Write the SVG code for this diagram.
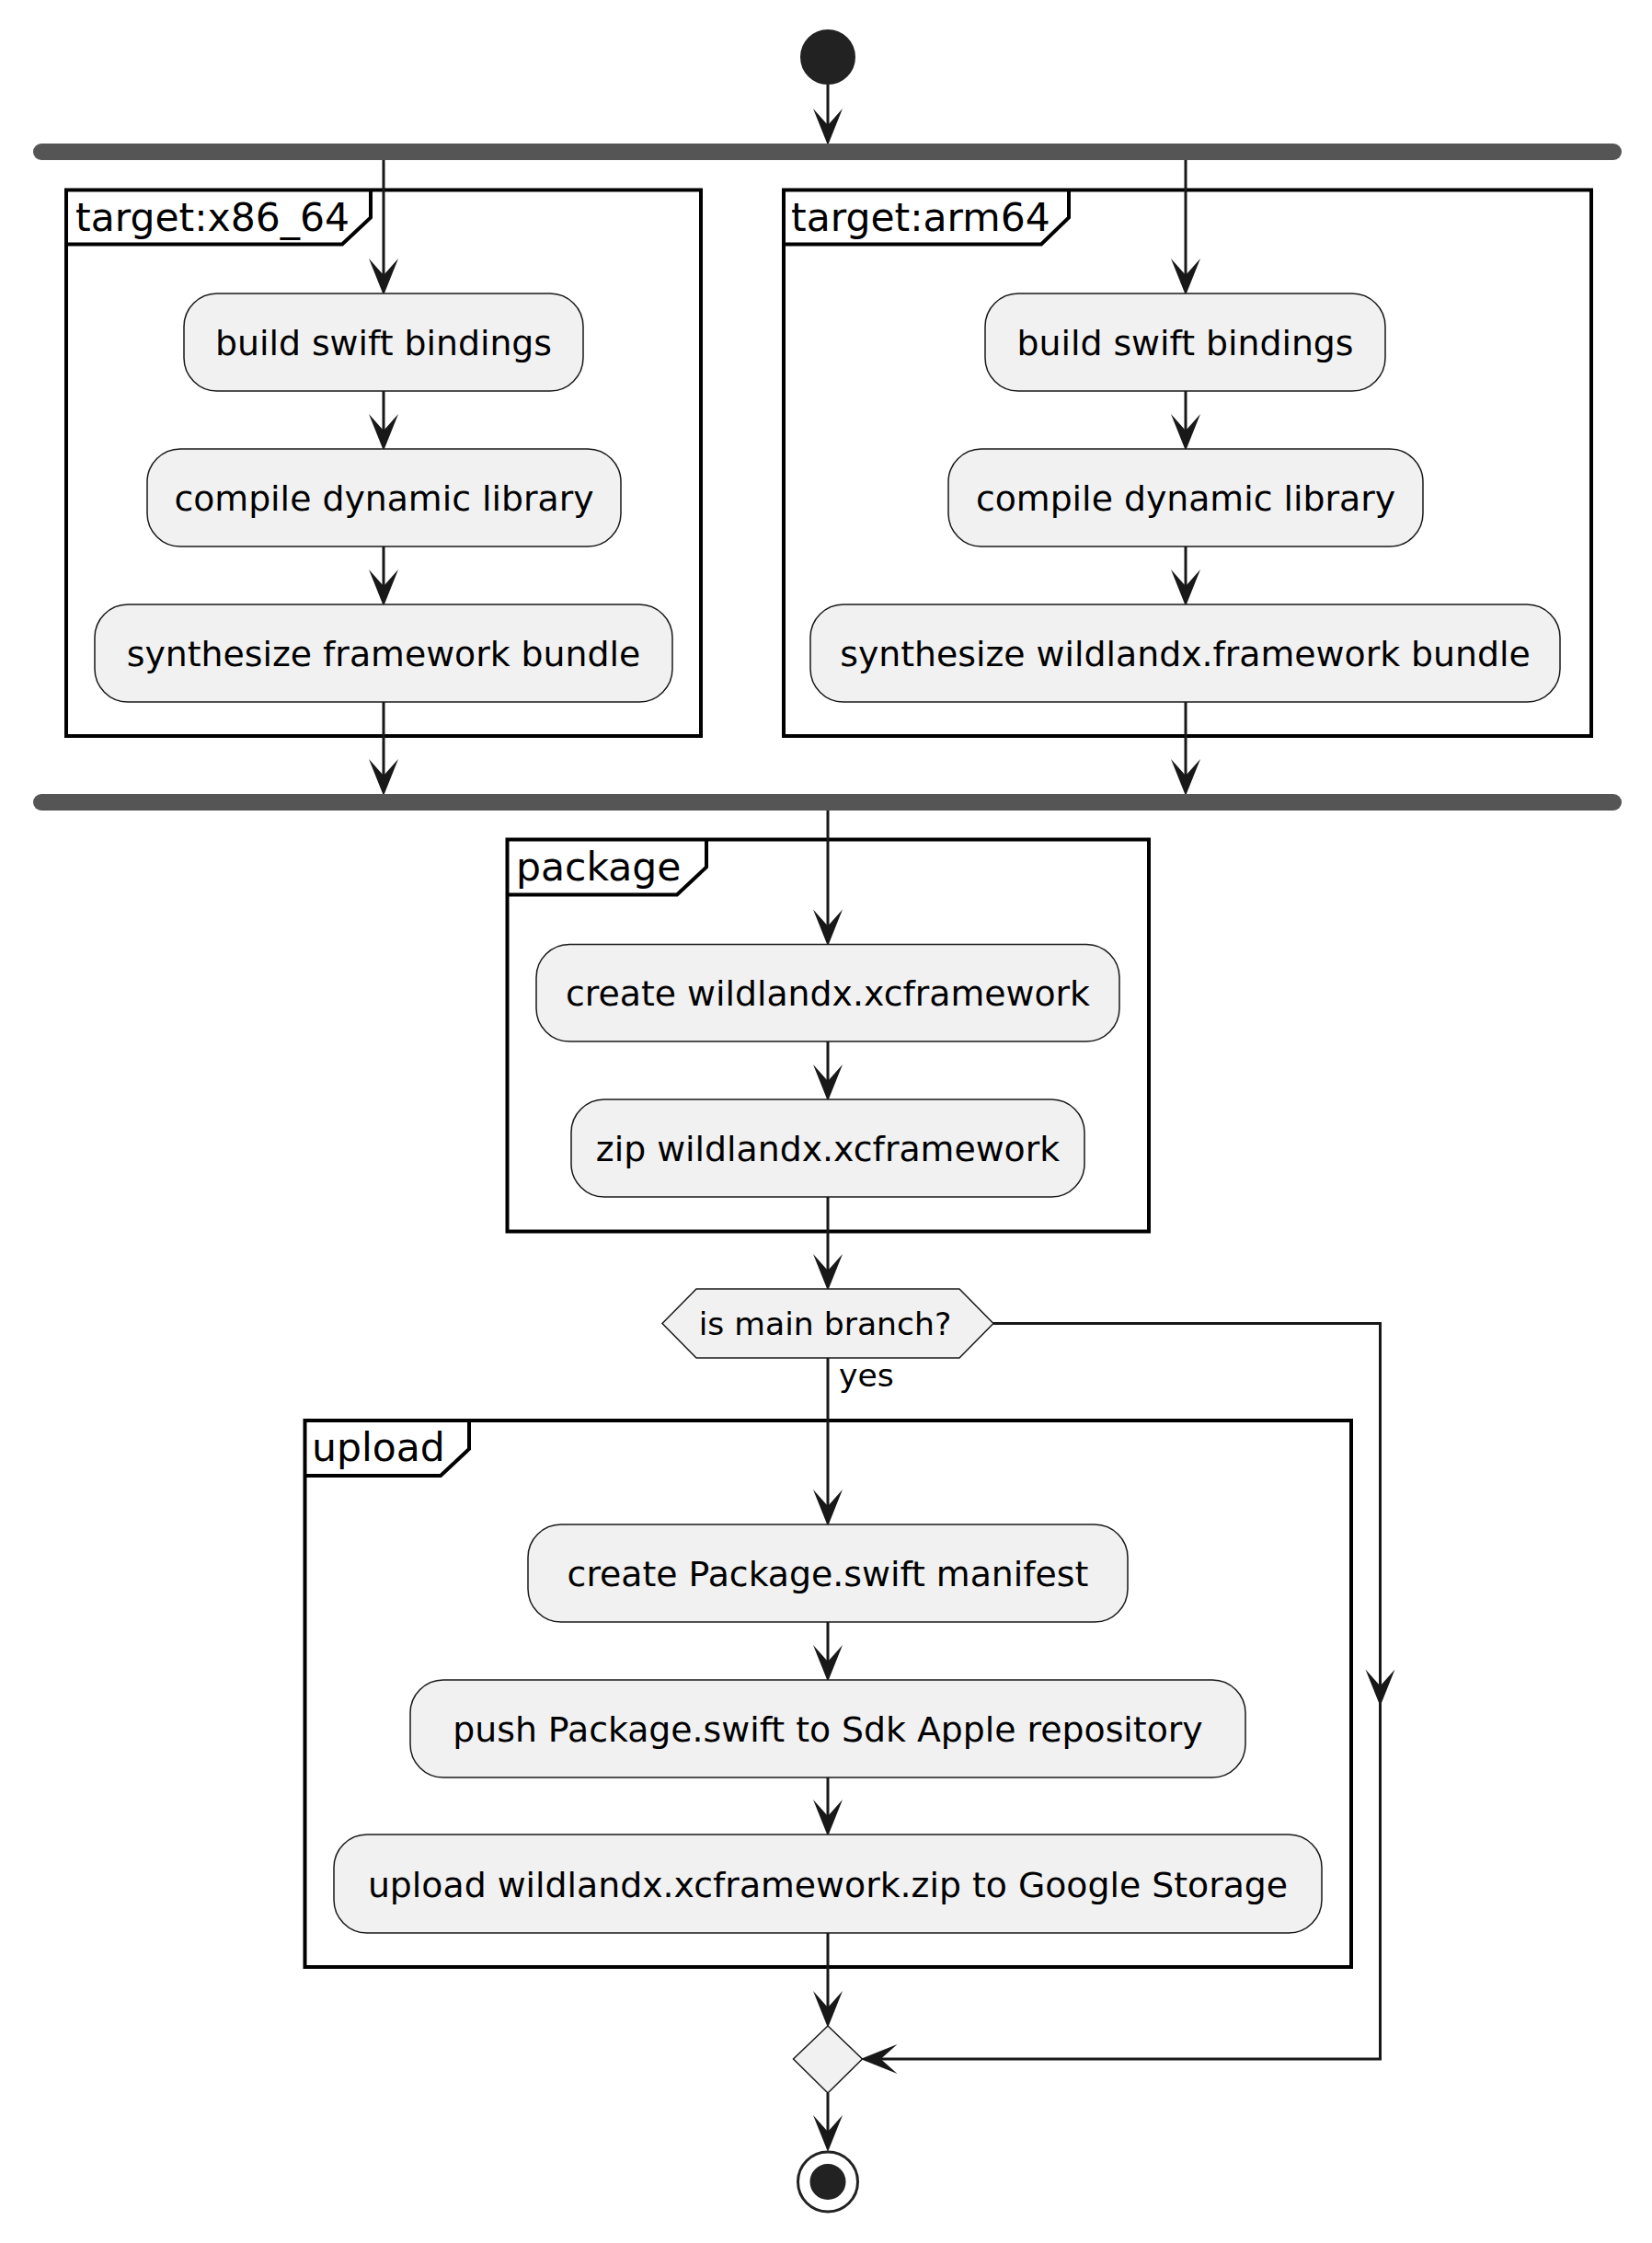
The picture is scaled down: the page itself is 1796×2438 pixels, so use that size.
<svg xmlns="http://www.w3.org/2000/svg" width="1796" height="2438" viewBox="0 0 1796 2438">
<style>
text{font-family:"DejaVu Sans","Liberation Sans",sans-serif;fill:#000}
.frame{fill:none;stroke:#000;stroke-width:4}
.ftitle{font-size:42.5px}
.act{fill:#F1F1F1;stroke:#181818;stroke-width:1.5}
.atext{font-size:37.8px;text-anchor:middle}
.dtext{font-size:34.6px}
.conn{fill:none;stroke:#181818;stroke-width:3;marker-end:url(#arr)}
.bar{fill:#555555}
</style>
<defs>
<marker id="arr" markerUnits="userSpaceOnUse" viewBox="-20 -18 44 36" markerWidth="44" markerHeight="36" refX="0" refY="0" orient="auto">
<path d="M22,0 L-18,-16 L0,0 L-18,16 Z" fill="#181818"/>
</marker>
</defs>
<rect width="1796" height="2438" fill="#fff"/>

<g id="frame-x86">
<rect class="frame" x="72" y="206.5" width="690" height="593.5"/>
<path class="frame" d="M72,265.5 L372,265.5 L403,236.5 L403,206.5"/>
<text class="ftitle" x="82" y="250.5">target:x86_64</text>
</g>
<g id="frame-arm64">
<rect class="frame" x="852" y="206.5" width="878" height="593.5"/>
<path class="frame" d="M852,265.5 L1132,265.5 L1162,236.5 L1162,206.5"/>
<text class="ftitle" x="860" y="250.5">target:arm64</text>
</g>
<g id="frame-package">
<rect class="frame" x="551.5" y="912.5" width="697.5" height="426"/>
<path class="frame" d="M551.5,972.5 L736,972.5 L768,942.5 L768,912.5"/>
<text class="ftitle" x="561" y="956.5">package</text>
</g>
<g id="frame-upload">
<rect class="frame" x="331.5" y="1544" width="1137.5" height="594"/>
<path class="frame" d="M331.5,1604 L479,1604 L510,1575 L510,1544"/>
<text class="ftitle" x="339" y="1588">upload</text>
</g>

<g id="connectors">
<path class="conn" d="M900,92 L900,136"/>
<path class="conn" d="M417,174 L417,299"/>
<path class="conn" d="M417,425 L417,468"/>
<path class="conn" d="M417,594 L417,637"/>
<path class="conn" d="M417,763 L417,843"/>
<path class="conn" d="M1289,174 L1289,299"/>
<path class="conn" d="M1289,425 L1289,468"/>
<path class="conn" d="M1289,594 L1289,637"/>
<path class="conn" d="M1289,763 L1289,843"/>
<path class="conn" d="M900,881 L900,1006.5"/>
<path class="conn" d="M900,1132 L900,1175"/>
<path class="conn" d="M900,1301 L900,1381"/>
<path class="conn" d="M900,1476 L900,1637"/>
<path class="conn" d="M900,1763 L900,1806"/>
<path class="conn" d="M900,1932 L900,1974"/>
<path class="conn" d="M900,2101 L900,2182"/>
<path class="conn" d="M900,2275 L900,2317"/>
<path class="conn" d="M1080,1438.5 L1500.5,1438.5 L1500.5,1832.5"/>
<path class="conn" d="M1500.5,1832.5 L1500.5,2238 L957.5,2238"/>
<text class="dtext" x="912" y="1507">yes</text>
</g>

<g id="start"><circle cx="900" cy="62" r="29" fill="#222222" stroke="#222222" stroke-width="2"/></g>
<g id="fork"><rect class="bar" x="36" y="156" width="1727" height="18" rx="9"/></g>
<g id="join"><rect class="bar" x="36" y="863" width="1727" height="18" rx="9"/></g>

<g id="x86-build"><rect class="act" x="200" y="319" width="434" height="106" rx="36"/><text class="atext" x="417" y="386">build swift bindings</text></g>
<g id="x86-compile"><rect class="act" x="160" y="488" width="515" height="106" rx="36"/><text class="atext" x="417.5" y="555">compile dynamic library</text></g>
<g id="x86-synth"><rect class="act" x="103" y="657" width="628" height="106" rx="36"/><text class="atext" x="417" y="724">synthesize framework bundle</text></g>

<g id="arm-build"><rect class="act" x="1071" y="319" width="435" height="106" rx="36"/><text class="atext" x="1288.5" y="386">build swift bindings</text></g>
<g id="arm-compile"><rect class="act" x="1031" y="488" width="516" height="106" rx="36"/><text class="atext" x="1289" y="555">compile dynamic library</text></g>
<g id="arm-synth"><rect class="act" x="881" y="657" width="815" height="106" rx="36"/><text class="atext" x="1288.5" y="724">synthesize wildlandx.framework bundle</text></g>

<g id="create-xcf"><rect class="act" x="583" y="1026.5" width="634" height="105.5" rx="36"/><text class="atext" x="900" y="1093">create wildlandx.xcframework</text></g>
<g id="zip-xcf"><rect class="act" x="621" y="1195" width="558" height="106" rx="36"/><text class="atext" x="900" y="1262">zip wildlandx.xcframework</text></g>

<g id="decision"><polygon points="720,1438.5 757,1401 1043,1401 1080,1438.5 1043,1476 757,1476" fill="#F1F1F1" stroke="#181818" stroke-width="1.5"/><text class="dtext" x="897" y="1451" text-anchor="middle">is main branch?</text></g>

<g id="create-manifest"><rect class="act" x="574" y="1657" width="652" height="106" rx="36"/><text class="atext" x="900" y="1724">create Package.swift manifest</text></g>
<g id="push-manifest"><rect class="act" x="446" y="1826" width="908" height="106" rx="36"/><text class="atext" x="900" y="1893">push Package.swift to Sdk Apple repository</text></g>
<g id="upload-zip"><rect class="act" x="363" y="1994" width="1074" height="107" rx="36"/><text class="atext" x="900" y="2061.5">upload wildlandx.xcframework.zip to Google Storage</text></g>

<g id="merge"><polygon points="900,2202 937.5,2238 900,2275 862.5,2238" fill="#F1F1F1" stroke="#181818" stroke-width="1.5"/></g>
<g id="stop"><circle cx="900" cy="2371.5" r="32.5" fill="none" stroke="#222222" stroke-width="3"/><circle cx="900" cy="2371.5" r="18" fill="#222222" stroke="#222222" stroke-width="3"/></g>
</svg>
